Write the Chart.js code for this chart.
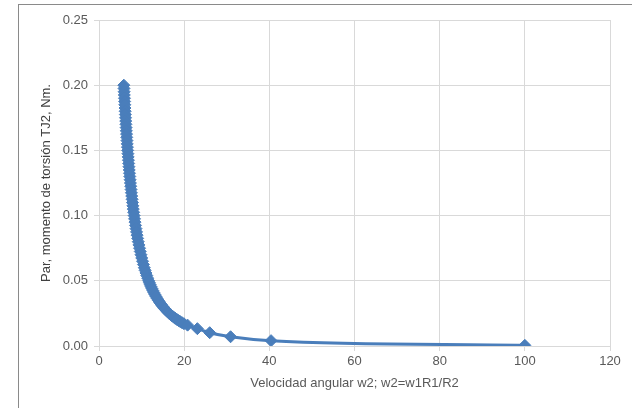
<!DOCTYPE html>
<html>
<head>
<meta charset="utf-8">
<script src="https://cdn.jsdelivr.net/npm/chart.js@4.4.0/dist/chart.umd.min.js"></script>
<style>
  html, body { margin: 0; padding: 0; background: #ffffff; overflow: hidden; }
  #frame { position: absolute; left: 18px; top: 4px; width: 720px; height: 520px; border: 1px solid #8a8a8a; box-sizing: border-box; }
  #wrap { position: absolute; left: 0; top: 0; width: 632px; height: 408px; }
</style>
</head>
<body>
<div id="frame"></div>
<div id="wrap"><canvas id="c" width="632" height="408"></canvas></div>
<script>
// Angular velocity w2 (x) and torque TJ2 (y)
const velocidad = [5.831, 5.868, 5.905, 5.943, 5.982, 6.022, 6.063, 6.104, 6.146, 6.190,
  6.234, 6.279, 6.325, 6.372, 6.420, 6.469, 6.519, 6.571, 6.624, 6.678,
  6.733, 6.790, 6.848, 6.908, 6.969, 7.032, 7.097, 7.164, 7.232, 7.303,
  7.376, 7.451, 7.528, 7.607, 7.690, 7.775, 7.863, 7.953, 8.047, 8.145,
  8.246, 8.351, 8.460, 8.574, 8.692, 8.816, 8.944, 9.079, 9.220, 9.367,
  9.522, 9.685, 9.856, 10.037, 10.228, 10.431, 10.646, 10.828, 11.019, 11.222,
  11.435, 11.662, 11.841, 12.028, 12.225, 12.432, 12.649, 12.878, 13.121, 13.377,
  13.649, 13.939, 14.184, 14.443, 14.716, 15.006, 15.313, 15.584, 15.870, 16.172,
  16.492, 16.832, 17.195, 17.541, 17.910, 18.303, 18.674, 19.069, 19.491, 19.941,
  20.8, 23.1, 26.0, 30.9, 40.4, 100.0];
const par = [0.2000, 0.1975, 0.1950, 0.1925, 0.1900, 0.1875, 0.1850, 0.1825, 0.1800, 0.1775,
  0.1750, 0.1725, 0.1700, 0.1675, 0.1650, 0.1625, 0.1600, 0.1575, 0.1550, 0.1525,
  0.1500, 0.1475, 0.1450, 0.1425, 0.1400, 0.1375, 0.1350, 0.1325, 0.1300, 0.1275,
  0.1250, 0.1225, 0.1200, 0.1175, 0.1150, 0.1125, 0.1100, 0.1075, 0.1050, 0.1025,
  0.1000, 0.0975, 0.0950, 0.0925, 0.0900, 0.0875, 0.0850, 0.0825, 0.0800, 0.0775,
  0.0750, 0.0725, 0.0700, 0.0675, 0.0650, 0.0625, 0.0600, 0.0580, 0.0560, 0.0540,
  0.0520, 0.0500, 0.0485, 0.0470, 0.0455, 0.0440, 0.0425, 0.0410, 0.0395, 0.0380,
  0.0365, 0.0350, 0.0338, 0.0326, 0.0314, 0.0302, 0.0290, 0.0280, 0.0270, 0.0260,
  0.0250, 0.0240, 0.0230, 0.0221, 0.0212, 0.0203, 0.0195, 0.0187, 0.0179, 0.0171,
  0.0160, 0.0133, 0.0102, 0.0071, 0.0041, 0.0005];
const xTicks = [0, 20, 40, 60, 80, 100, 120];
const yTicks = [0.00, 0.05, 0.10, 0.15, 0.20, 0.25];
const xTitle = "Velocidad angular w2; w2=w1R1/R2";
const yTitle = "Par, momento de torsión TJ2, Nm.";

const points = velocidad.map((v, i) => ({ x: v, y: par[i] }));
const blue = '#4a7ebb';
const tickColor = '#595959';
const gridColor = '#d9d9d9';
const fontFam = '"Liberation Sans", Arial, sans-serif';

new Chart(document.getElementById('c'), {
  type: 'scatter',
  data: {
    datasets: [{
      data: points,
      showLine: true,
      borderColor: blue,
      backgroundColor: blue,
      borderWidth: 3,
      pointStyle: 'rectRot',
      pointRadius: 6,
      pointBorderWidth: 1,
      pointBorderColor: blue,
      pointBackgroundColor: blue,
      cubicInterpolationMode: 'monotone'
    }]
  },
  options: {
    responsive: false,
    animation: false,
    devicePixelRatio: 1,
    layout: { padding: { left: 0, right: 22, top: 20, bottom: 0 } },
    plugins: { legend: { display: false }, tooltip: { enabled: false } },
    scales: {
      x: {
        type: 'linear',
        min: xTicks[0],
        max: xTicks[xTicks.length - 1],
        afterBuildTicks: (s) => { s.ticks = xTicks.map(v => ({ value: v })); },
        afterFit: (s) => { s.height = 408 - 346; },
        grid: { color: gridColor, lineWidth: 1, tickLength: 5, drawTicks: true },
        border: { color: gridColor, width: 1 },
        ticks: { color: tickColor, font: { family: fontFam, size: 13 }, padding: 3,
          callback: (v) => String(v) },
        title: { display: true, text: xTitle, color: tickColor,
          font: { family: fontFam, size: 13 }, padding: { top: 0, bottom: 17 } }
      },
      y: {
        type: 'linear',
        min: yTicks[0],
        max: yTicks[yTicks.length - 1],
        afterBuildTicks: (s) => { s.ticks = yTicks.map(v => ({ value: v })); },
        afterFit: (s) => { s.width = 99; },
        grid: { color: gridColor, lineWidth: 1, tickLength: 5, drawTicks: true },
        border: { color: gridColor, width: 1 },
        ticks: { color: tickColor, font: { family: fontFam, size: 13 }, padding: 6,
          callback: (v) => Number(v).toFixed(2) },
        title: { display: true, text: yTitle, color: '#404040',
          font: { family: fontFam, size: 13 }, padding: { top: 39, bottom: 0 } }
      }
    }
  }
});
</script>
</body>
</html>
